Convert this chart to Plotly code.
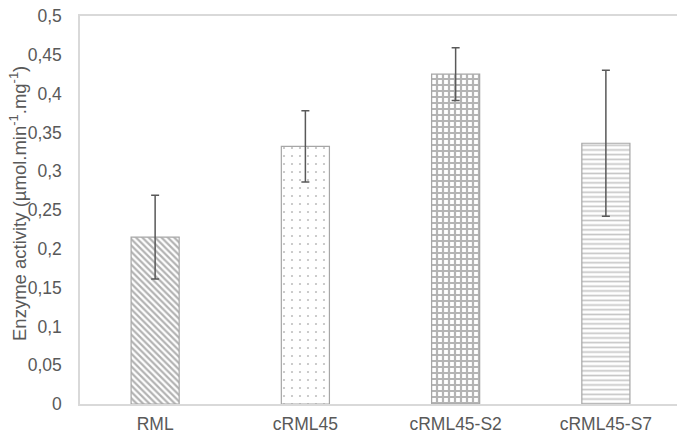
import plotly.graph_objects as go

categories = ["RML", "cRML45", "cRML45-S2", "cRML45-S7"]
activity = [0.215, 0.332, 0.425, 0.336]
activity_err = [0.054, 0.046, 0.034, 0.094]

y_ticks = [0, 0.05, 0.1, 0.15, 0.2, 0.25, 0.3, 0.35, 0.4, 0.45, 0.5]
y_title = "Enzyme activity (µmol.min<sup>-1</sup>.mg<sup>-1</sup>)"

text_color = "#595959"
font_family = "Liberation Sans, Arial, sans-serif"

fig = go.Figure()

fig.add_trace(go.Bar(
    x=categories,
    y=activity,
    width=0.32,
    marker=dict(
        color="white",
        line=dict(color="#a6a6a6", width=1.2),
        pattern=dict(
            shape=["\\", ".", "+", "-"],
            fgcolor=["#666666", "#7f7f7f", "#6a6a6a", "#8c8c8c"],
            bgcolor="white",
            size=[4.5, 8, 6, 4.7],
            solidity=[0.5, 0.06, 0.6, 0.35],
            fillmode="overlay",
        ),
    ),
    error_y=dict(
        type="data",
        array=activity_err,
        color="#595959",
        thickness=1.5,
        width=4,
    ),
    showlegend=False,
))

# page body adds an 8px offset, so the figure is sized to the visible window
fig.update_layout(
    width=677,
    height=429,
    margin=dict(l=72, r=4, t=8, b=33),
    plot_bgcolor="white",
    paper_bgcolor="white",
    separators=", ",
    font=dict(family=font_family, size=17.5, color=text_color),
    bargap=0.68,
)

fig.update_xaxes(
    automargin=False,
    showline=True,
    linecolor="#d9d9d9",
    linewidth=1.5,
    mirror=True,
    showgrid=False,
    ticks="",
    ticklabelstandoff=3,
    tickfont=dict(size=17.5, color=text_color),
)

fig.update_yaxes(
    automargin=False,
    range=[0, 0.5],
    tickvals=y_ticks,
    tickformat=".2~f",
    ticklabeloverflow="allow",
    showline=True,
    linecolor="#d9d9d9",
    linewidth=1.5,
    mirror=True,
    showgrid=False,
    zeroline=False,
    ticks="",
    ticklabelstandoff=13,
    tickfont=dict(size=17.5, color=text_color),
)

# axis title as a rotated annotation so it sits clear of the tick labels
fig.add_annotation(
    text=y_title,
    xref="paper", yref="paper",
    x=0, y=0.5,
    xanchor="center", yanchor="middle",
    xshift=-62, yshift=6,
    textangle=-90,
    showarrow=False,
    font=dict(size=18.5, color=text_color),
)

fig.write_html("out.html")
